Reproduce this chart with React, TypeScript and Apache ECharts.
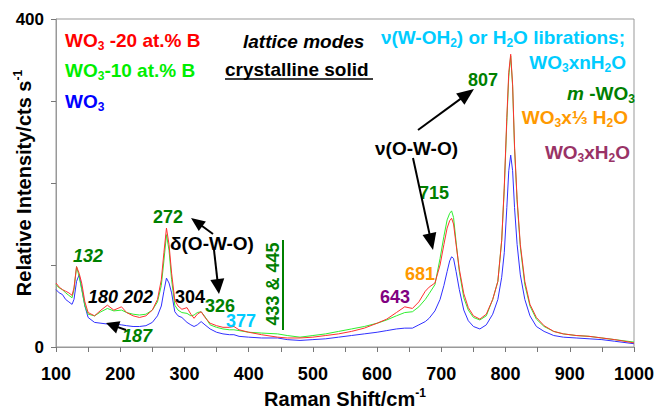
import React, { useEffect, useRef } from "react";
import * as echarts from "echarts";

const ramanShift = [
  100, 105, 110, 115, 120, 125, 128, 132, 136, 140,
  145, 150, 160, 170, 180, 190, 202, 210, 220, 230,
  240, 250, 258, 264, 268, 272, 276, 280, 285, 290,
  296, 304, 310, 315, 320, 326, 332, 340, 350, 360,
  370, 377, 385, 400, 420, 445, 460, 480, 500, 520,
  540, 560, 580, 600, 615, 630, 643, 655, 665, 675,
  681, 690, 698, 704, 709, 713, 716, 719, 723, 728,
  735, 742, 750, 760, 770, 780, 788, 794, 798, 802,
  805, 808, 811, 814, 818, 823, 830, 838, 848, 860,
  875, 890, 910, 930, 950, 970, 1000,
];

const wo3B20 = [
  78, 73, 70, 68, 66, 63, 72, 98, 90, 78,
  55, 42, 38, 45, 51, 45, 49, 42, 38, 36,
  38, 45, 58, 82, 115, 145, 125, 90, 57, 50,
  46, 48, 40, 35, 40, 43, 36, 29, 26, 24,
  24, 25, 21, 18, 15, 12, 11, 11, 12, 14,
  16, 19, 23, 29, 34, 42, 49, 47, 55, 68,
  73, 78, 100, 125, 145, 154, 157, 150, 125, 95,
  65, 48, 38, 34, 40, 58, 80, 130, 195, 280,
  335, 357, 320, 245, 180, 125, 80, 52, 36, 26,
  19, 16, 14, 13, 11, 9, 5,
];

const wo3B10 = [
  76, 72, 70, 66, 63, 60, 70, 98, 86, 70,
  50, 40, 38, 43, 47, 44, 45, 42, 40, 39,
  40, 45, 55, 75, 105, 137, 118, 82, 51, 45,
  42, 41, 38, 39, 42, 43, 37, 27, 24, 22,
  21, 21, 20, 18, 17, 16, 14, 12, 14, 16,
  19, 22, 25, 29, 33, 38, 42, 43, 49, 58,
  65, 76, 108, 135, 155, 163, 166, 158, 128, 92,
  60, 45, 36, 33, 38, 58, 80, 130, 193, 275,
  330, 355, 318, 242, 178, 122, 76, 50, 34, 25,
  19, 16, 14, 13, 11, 9, 6,
];

const wo3 = [
  70, 66, 64, 58, 55, 52, 58, 80, 88, 72,
  50, 36, 30, 29, 28, 28, 27, 26, 25, 25,
  26, 30, 38, 50, 68, 84, 78, 66, 43, 38,
  36, 30, 27, 25, 27, 31, 27, 22, 18, 16,
  15, 15, 13, 12, 11, 11, 9, 8, 9, 10,
  12, 14, 16, 18, 20, 22, 23, 23, 27, 31,
  35, 44, 58, 75, 92, 105, 110, 108, 92, 70,
  45, 32, 25, 22, 27, 40, 58, 85, 115, 170,
  215, 234, 215, 170, 125, 88, 58, 38, 25, 19,
  14, 12, 11, 10, 9, 7, 4,
];

const xMin = 100;
const xMax = 1000;
const xStep = 50;
const yMin = 0;
const yMax = 400;
const yStep = 100;
const yLabelsShown = [0, 400];

const F = "Arial, 'Liberation Sans', sans-serif";
const DARK_GREEN = "#008000";
const CYAN = "#00ccff";
const ORANGE = "#ff9900";
const PURPLE = "#993366";

function mkRich(color: string, size: number, italic = false) {
  const base = {
    fill: color,
    fontFamily: F,
    fontWeight: "bold",
    fontStyle: italic ? "italic" : "normal",
  };
  return {
    n: { ...base, fontSize: size, lineHeight: size + 4 },
    i: { ...base, fontStyle: "italic", fontSize: size, lineHeight: size + 4 },
    s: { ...base, fontStyle: "normal", fontSize: Math.round(size * 0.62), lineHeight: Math.round(size * 0.62) + 2, verticalAlign: "bottom" },
  };
}

function label(
  x: number,
  y: number,
  text: string,
  color: string,
  size: number,
  opts: { italic?: boolean; align?: string; rotation?: number } = {}
) {
  return {
    type: "text",
    x,
    y,
    rotation: opts.rotation || 0,
    z: 100,
    style: {
      text,
      fill: color,
      fontSize: size,
      fontWeight: "bold",
      fontStyle: opts.italic ? "italic" : "normal",
      fontFamily: F,
      align: opts.align || "center",
      verticalAlign: "middle",
      textAlign: opts.align || "center",
      textVerticalAlign: "middle",
      rich: mkRich(color, size, opts.italic),
    },
  };
}

function arrow(x1: number, y1: number, x2: number, y2: number, hl: number, hw: number) {
  const dx = x2 - x1;
  const dy = y2 - y1;
  const L = Math.hypot(dx, dy);
  const ux = dx / L;
  const uy = dy / L;
  const px = -uy;
  const py = ux;
  const bx = x2 - ux * hl;
  const by = y2 - uy * hl;
  return [
    {
      type: "line",
      z: 100,
      shape: { x1, y1, x2: bx + ux * 2, y2: by + uy * 2 },
      style: { stroke: "#000", lineWidth: 2 },
    },
    {
      type: "polygon",
      z: 100,
      shape: {
        points: [
          [x2, y2],
          [bx + (px * hw) / 2, by + (py * hw) / 2],
          [bx - (px * hw) / 2, by - (py * hw) / 2],
        ],
      },
      style: { fill: "#000" },
    },
  ];
}

export default function App() {
  const ref = useRef<HTMLDivElement>(null);

  useEffect(() => {
    document.body.style.margin = "0";
    const chart = echarts.init(ref.current!, null, { renderer: "svg" });

    const mk = (arr: number[]) => ramanShift.map((x, i) => [x, arr[i]]);

    const graphics: any[] = [
      label(65, 40, "{n|WO}{s|3}{n| -20 at.% B}", "#ff0000", 19, { align: "left" }),
      label(65, 70, "{n|WO}{s|3}{n|-10 at.% B}", "#00ee00", 19, { align: "left" }),
      label(65, 101, "{n|WO}{s|3}", "#0000ff", 19, { align: "left" }),
      label(243, 41, "lattice modes", "#000", 19, { align: "left", italic: true }),
      label(225, 69, "crystalline solid", "#000", 19, { align: "left" }),
      { type: "line", z: 100, shape: { x1: 225, y1: 79, x2: 373, y2: 79 }, style: { stroke: "#000", lineWidth: 1.5 } },
      label(625, 37, "{n|ν(W-OH}{s|2}{n|) or H}{s|2}{n|O librations;}", CYAN, 19, { align: "right" }),
      label(626, 62, "{n|WO}{s|3}{n|xnH}{s|2}{n|O}", CYAN, 19, { align: "right" }),
      label(567, 93, "{i|m}{n| -WO}{s|3}", DARK_GREEN, 19, { align: "left" }),
      label(628, 117, "{n|WO}{s|3}{n|x⅓ H}{s|2}{n|O}", ORANGE, 19, { align: "right" }),
      label(630, 152, "{n|WO}{s|3}{n|xH}{s|2}{n|O}", PURPLE, 19, { align: "right" }),
      label(483, 80, "807", DARK_GREEN, 18),
      label(375, 148, "ν(O-W-O)", "#000", 19, { align: "left" }),
      label(434, 193, "715", DARK_GREEN, 18),
      label(420, 274, "681", ORANGE, 18),
      label(395, 297, "643", "#800080", 18),
      label(168, 217, "272", DARK_GREEN, 18),
      label(170, 243, "δ(O-W-O)", "#000", 19, { align: "left" }),
      label(88, 256, "132", DARK_GREEN, 18, { italic: true }),
      label(103, 297, "180", "#000", 18, { italic: true }),
      label(138, 297, "202", "#000", 18, { italic: true }),
      label(190, 297, "304", "#000", 18),
      label(220, 306, "326", DARK_GREEN, 18),
      label(241, 321, "377", CYAN, 18),
      label(273, 284, "433 & 445", DARK_GREEN, 18, { rotation: Math.PI / 2 }),
      { type: "line", z: 100, shape: { x1: 283, y1: 240, x2: 283, y2: 330 }, style: { stroke: DARK_GREEN, lineWidth: 2 } },
      label(137, 336, "187", DARK_GREEN, 18, { italic: true }),
      ...arrow(418, 130, 474, 89, 17, 14),
      ...arrow(413, 158, 433, 250, 17, 14),
      ...arrow(213, 234, 191, 218, 14, 12),
      ...arrow(214, 250, 219, 294, 15, 14),
      ...arrow(126, 330, 106, 323, 13, 13),
    ];

    chart.setOption({
      animation: false,
      backgroundColor: "#fff",
      grid: {
        left: 56,
        right: 21,
        top: 19,
        bottom: 63,
        containLabel: false,
        outerBoundsMode: "none",
        show: true,
        borderColor: "#999",
        borderWidth: 1,
      },
      xAxis: {
        type: "value",
        min: xMin,
        max: xMax,
        interval: xStep,
        name: "{n|Raman Shift/cm}{p|-1}",
        nameLocation: "middle",
        nameGap: 40,
        nameMoveOverlap: false,
        nameTextStyle: {
          rich: {
            n: { fontSize: 20, fontWeight: "bold", color: "#000", fontFamily: F, lineHeight: 24 },
            p: { fontSize: 12, fontWeight: "bold", color: "#000", fontFamily: F, verticalAlign: "top", lineHeight: 14 },
          },
        },
        axisLine: { lineStyle: { color: "#999", width: 1 } },
        axisTick: { length: 5, lineStyle: { color: "#777" } },
        splitLine: { show: false },
        axisLabel: {
          margin: 18,
          fontSize: 18,
          fontWeight: "bold",
          color: "#000",
          fontFamily: F,
          formatter: (v: number) => (v % 100 === 0 ? String(v) : ""),
        },
      },
      yAxis: {
        type: "value",
        min: yMin,
        max: yMax,
        interval: yStep,
        name: "{n|Relative Intensity/cts s}{p|-1}",
        nameLocation: "middle",
        nameGap: 20,
        nameMoveOverlap: false,
        nameTextStyle: {
          rich: {
            n: { fontSize: 20, fontWeight: "bold", color: "#000", fontFamily: F, lineHeight: 24 },
            p: { fontSize: 12, fontWeight: "bold", color: "#000", fontFamily: F, verticalAlign: "top", lineHeight: 14 },
          },
        },
        axisLine: { show: true, lineStyle: { color: "#999", width: 1 } },
        axisTick: { show: true, length: 5, lineStyle: { color: "#777" } },
        splitLine: { show: false },
        axisLabel: {
          margin: 12,
          fontSize: 17,
          fontWeight: "bold",
          color: "#000",
          fontFamily: F,
          formatter: (v: number) => (yLabelsShown.includes(v) ? String(v) : ""),
        },
      },
      series: [
        {
          name: "WO3",
          type: "line",
          data: mk(wo3),
          showSymbol: false,
          lineStyle: { color: "#3030ff", width: 1 },
          itemStyle: { color: "#3030ff" },
        },
        {
          name: "WO3 -10 at.% B",
          type: "line",
          data: mk(wo3B10),
          showSymbol: false,
          lineStyle: { color: "#30ee30", width: 1 },
          itemStyle: { color: "#30ee30" },
        },
        {
          name: "WO3 -20 at.% B",
          type: "line",
          data: mk(wo3B20),
          showSymbol: false,
          lineStyle: { color: "#ff3030", width: 1 },
          itemStyle: { color: "#ff3030" },
        },
      ],
      graphic: graphics,
    });

    return () => chart.dispose();
  }, []);

  return <div ref={ref} style={{ width: 655, height: 410 }} />;
}
